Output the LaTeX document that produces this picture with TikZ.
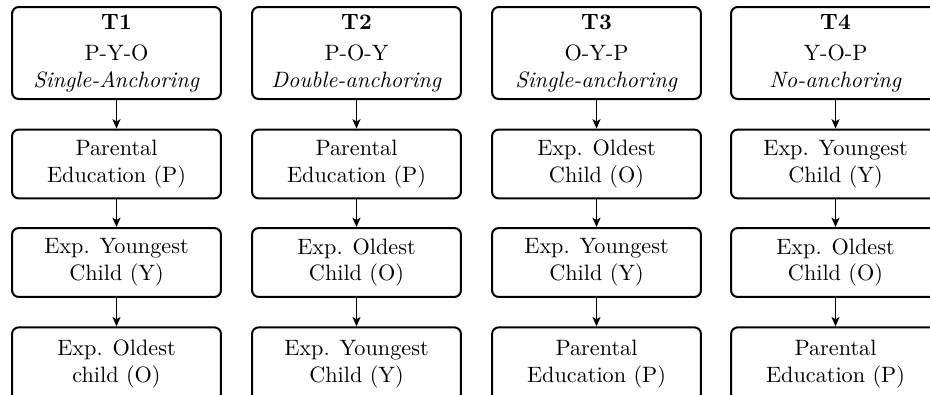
\documentclass[tikz,border=0pt]{standalone}
\usetikzlibrary{arrows.meta}
\begin{document}
\begin{tikzpicture}[x=0.45pt,y=-0.45pt,
  box/.style={draw,line width=0.9pt,rounded corners=3pt,align=center,
    minimum width=94pt,minimum height=31pt,inner sep=2pt},
  headbox/.style={box,minimum height=41.4pt},
  lastbox/.style={box,minimum height=33pt},
  flow/.style={line width=0.6pt,-{Stealth[length=4.2pt,width=3.6pt,inset=1pt]}}]
\useasboundingbox (0,0) rectangle (930,394);
\clip (0,0) rectangle (930,394);
% column 1
\node[headbox] (h1) at (116.5,53) {\textbf{T1}\\[2pt] P-Y-O\\ \textit{Single-Anchoring}};
\node[box] (a1) at (116.5,164) {Parental\\ Education (P)};
\node[box] (b1) at (116.5,262.5) {Exp. Youngest\\ Child (Y)};
\node[lastbox] (c1) at (116.5,364) {Exp. Oldest\\ child (O)};
% column 2
\node[headbox] (h2) at (356.5,53) {\textbf{T2}\\[2pt] P-O-Y\\ \textit{Double-anchoring}};
\node[box] (a2) at (356.5,164) {Parental\\ Education (P)};
\node[box] (b2) at (356.5,262.5) {Exp. Oldest\\ Child (O)};
\node[lastbox] (c2) at (356.5,364) {Exp. Youngest\\ Child (Y)};
% column 3
\node[headbox] (h3) at (596.5,53) {\textbf{T3}\\[2pt] O-Y-P\\ \textit{Single-anchoring}};
\node[box] (a3) at (596.5,164) {Exp. Oldest\\ Child (O)};
\node[box] (b3) at (596.5,262.5) {Exp. Youngest\\ Child (Y)};
\node[lastbox] (c3) at (596.5,364) {Parental\\ Education (P)};
% column 4
\node[headbox] (h4) at (835.5,53) {\textbf{T4}\\[2pt] Y-O-P\\ \textit{No-anchoring}};
\node[box] (a4) at (835.5,164) {Exp. Youngest\\ Child (Y)};
\node[box] (b4) at (835.5,262.5) {Exp. Oldest\\ Child (O)};
\node[lastbox] (c4) at (835.5,364) {Parental\\ Education (P)};
\foreach \i in {1,2,3,4}{
  \draw[flow] (h\i) -- (a\i);
  \draw[flow] (a\i) -- (b\i);
  \draw[flow] (b\i) -- (c\i);
}
\end{tikzpicture}
\end{document}
